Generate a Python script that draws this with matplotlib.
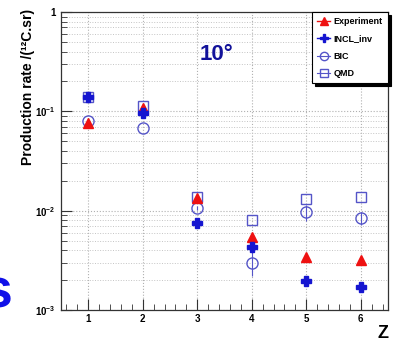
import matplotlib
matplotlib.use("Agg")
import matplotlib.pyplot as plt
from matplotlib.lines import Line2D
from matplotlib.ticker import FixedLocator, LogLocator, MultipleLocator, NullFormatter

plt.rcParams['font.family'] = ['Liberation Sans', 'DejaVu Sans']
plt.rcParams['font.weight'] = 'bold'
plt.rcParams['mathtext.fontset'] = 'custom'
plt.rcParams['mathtext.rm'] = 'Liberation Sans:bold'
plt.rcParams['mathtext.default'] = 'rm'

# values
z = [1, 2, 3, 4, 5, 6]
experiment = [0.076, 0.108, 0.0134, 0.0054, 0.0034, 0.0032]
incl_inv = [0.139, 0.096, 0.0075, 0.0043, 0.00195, 0.0017]
bic = [0.080, 0.068, 0.0106, 0.0030, 0.0097, 0.0084]
bic_err = [0.0, 0.0, 0.0005, 0.0008, 0.0018, 0.0013]
qmd = [0.140, 0.113, 0.0137, 0.0080, 0.0131, 0.0137]
ytick_vals = [1e-3, 1e-2, 1e-1, 1]
ytick_labels = ['10$^{-3}$', '10$^{-2}$', '10$^{-1}$', '1']

red = '#ee1111'
blue = '#1515d0'
light_blue = '#5555c8'

fig = plt.figure(figsize=(3.97, 3.40), dpi=100)
ax = fig.add_axes([0.1537, 0.0882, 0.8236, 0.8765])

ax.set_yscale('log')
ax.set_xlim(0.5, 6.5)
ax.set_ylim(1e-3, 1)

ax.errorbar(z, bic, yerr=bic_err, fmt='o', ms=8, mfc='none', mec=light_blue,
            mew=1.0, ecolor=light_blue, elinewidth=0.8, capsize=0, zorder=3)
ax.plot(z, qmd, 's', ms=7.5, mfc='none', mec=light_blue, mew=1.0, zorder=3)
ax.plot(z, experiment, '^', ms=7.5, color=red, zorder=4)
ax.plot(z, incl_inv, 'P', ms=7.5, color=blue, zorder=5)

ax.xaxis.set_major_locator(MultipleLocator(1))
ax.xaxis.set_minor_locator(MultipleLocator(0.2))
ax.yaxis.set_major_locator(FixedLocator(ytick_vals))
ax.set_yticklabels(ytick_labels)
ax.yaxis.set_minor_locator(LogLocator(base=10, subs=range(2, 10)))
ax.yaxis.set_minor_formatter(NullFormatter())

ax.tick_params(axis='both', which='both', direction='in', color='#333333')
ax.tick_params(axis='both', which='major', length=8, labelsize=7, pad=3)
ax.tick_params(axis='both', which='minor', length=4)
ax.tick_params(axis='y', which='major', pad=4)

ax.grid(True, which='major', axis='both', color='#b0b0b0', linestyle=':', linewidth=0.8)
ax.grid(True, which='minor', axis='y', color='#c4c4c4', linestyle=':', linewidth=0.7)
for sp in ax.spines.values():
    sp.set_color('#333333')
    sp.set_linewidth(0.9)

handles = [
    Line2D([], [], color=red, marker='^', ms=6, lw=1),
    Line2D([], [], color=blue, marker='P', ms=6, lw=1),
    Line2D([], [], color=light_blue, marker='o', ms=6, mfc='none', lw=0.8),
    Line2D([], [], color=light_blue, marker='s', ms=6, mfc='none', lw=0.8),
]
leg = ax.legend(handles, ['Experiment', 'INCL_inv', 'BIC', 'QMD'], loc='upper right',
                borderaxespad=0, fancybox=False, shadow={'color': 'black', 'alpha': 1},
                edgecolor='black', framealpha=1, prop={'size': 6.5, 'weight': 'bold'},
                handlelength=1.4, handletextpad=0.4, labelspacing=0.9, borderpad=0.6)
leg.get_frame().set_linewidth(0.8)

ax.text(0.474, 0.856, '10°', transform=ax.transAxes, color='#12129a',
        fontsize=16, fontweight='bold', ha='center', va='center')

fig.text(28 / 397, 1 - 9 / 340, 'Production rate /(¹²C.sr)', rotation=90,
         ha='center', va='top', fontsize=10, fontweight='bold')
fig.text(383 / 397, 1 - 333 / 340, 'Z', ha='center', va='center',
         fontsize=13, fontweight='bold')
fig.text(12 / 397, 1 - 293 / 340, 's', ha='right', va='center', color='#1010e8',
         fontsize=40, fontweight='bold')

fig.savefig('out.png', dpi=100)
